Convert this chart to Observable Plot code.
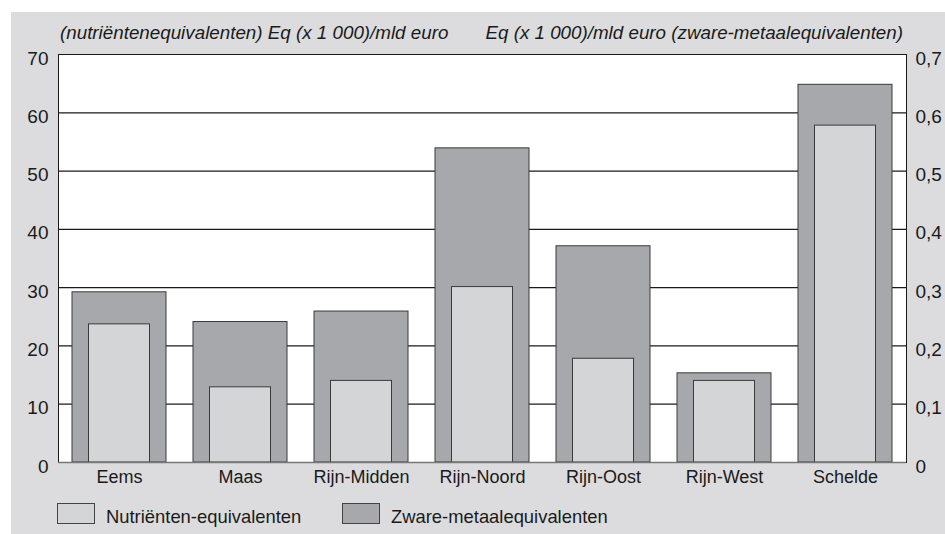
<!DOCTYPE html>
<html><head><meta charset="utf-8">
<script src="https://cdn.jsdelivr.net/npm/d3@7"></script>
<script src="https://cdn.jsdelivr.net/npm/@observablehq/plot@0.6"></script>
<style>
html,body{margin:0;padding:0;background:#fff;}
body{width:945px;height:534px;position:relative;overflow:hidden;font-family:"Liberation Sans",Arial,sans-serif;color:#1a1a1a;}
#panel{position:absolute;left:11px;top:12px;width:934px;height:522px;background:#dcdcde;}
#chart{position:absolute;left:0;top:0;}
.title{position:absolute;top:11px;font-style:italic;font-size:18.8px;white-space:nowrap;line-height:20px;}
.sw{position:absolute;width:38px;height:21px;border:1px solid #444;box-sizing:border-box;}
.lt{position:absolute;font-size:18.4px;white-space:nowrap;line-height:20px;}
</style>
</head><body>
<div id="panel">
  <div id="chart"></div>
  <div class="title" id="tl" style="left:49px;"></div>
  <div class="title" id="tr" style="right:42px;"></div>
  <div class="sw" style="left:46px;top:491px;background:#d4d5d7;"></div>
  <div class="lt" id="l1" style="left:95px;top:495px;"></div>
  <div class="sw" style="left:331px;top:491px;background:#a7a8ab;"></div>
  <div class="lt" id="l2" style="left:380px;top:495px;"></div>
</div>
<script>
// ---- data ----
const categories = ["Eems", "Maas", "Rijn-Midden", "Rijn-Noord", "Rijn-Oost", "Rijn-West", "Schelde"];
const nutrients = [23.7, 12.9, 14, 30.1, 17.8, 14, 57.8];          // Eq (x 1 000)/mld euro, left axis
const metals = [0.292, 0.241, 0.259, 0.539, 0.371, 0.153, 0.648];  // Eq (x 1 000)/mld euro, right axis
const leftTicks = [0, 10, 20, 30, 40, 50, 60, 70];
const rightTickLabels = ["0", "0,1", "0,2", "0,3", "0,4", "0,5", "0,6", "0,7"];
const gridValues = [10, 20, 30, 40, 50, 60];
const titleLeft = "(nutriëntenequivalenten) Eq (x 1 000)/mld euro";
const titleRight = "Eq (x 1 000)/mld euro (zware-metaalequivalenten)";
const legendLabels = ["Nutriënten-equivalenten", "Zware-metaalequivalenten"];
const axisRatio = 100; // right axis value * 100 = left axis value

const rows = categories.map((c, i) => ({cat: c, nut: nutrients[i], met: metals[i]}));

document.getElementById("tl").textContent = titleLeft;
document.getElementById("tr").textContent = titleRight;
document.getElementById("l1").textContent = legendLabels[0];
document.getElementById("l2").textContent = legendLabels[1];

const chart = Plot.plot({
  width: 934,
  height: 480,
  marginLeft: 47,
  marginRight: 39,
  marginTop: 42,
  marginBottom: 30,
  style: {background: "transparent", fontFamily: "'Liberation Sans', Arial, sans-serif", fontSize: "18px", color: "#1a1a1a"},
  x: {domain: categories, paddingInner: 0.223, paddingOuter: 0.112, label: null},
  y: {domain: [0, 70], label: null},
  marks: [
    Plot.frame({fill: "white", stroke: "#1a1a1a"}),
    Plot.ruleY(gridValues, {stroke: "#1a1a1a", strokeWidth: 1.2}),
    Plot.barY(rows, {x: "cat", y: d => d.met * axisRatio, fill: "#a7a8ab", stroke: "#3a3a3a", strokeWidth: 1}),
    Plot.barY(rows, {x: "cat", y: "nut", fill: "#d4d5d7", stroke: "#3a3a3a", strokeWidth: 1, insetLeft: 16.5, insetRight: 16.5}),
    Plot.ruleY([0], {stroke: "#777", strokeWidth: 1.5}),
    Plot.axisY(leftTicks, {anchor: "left", tickSize: 0, tickPadding: 10, fontSize: 19, dy: 4, label: null}),
    Plot.axisY(leftTicks, {anchor: "right", tickSize: 0, tickPadding: 9, fontSize: 19, dy: 4, label: null,
      tickFormat: (d) => rightTickLabels[leftTicks.indexOf(d)]}),
    Plot.axisX({tickSize: 0, tickPadding: 8, fontSize: 18, label: null})
  ]
});
document.getElementById("chart").appendChild(chart);
</script>
</body></html>
